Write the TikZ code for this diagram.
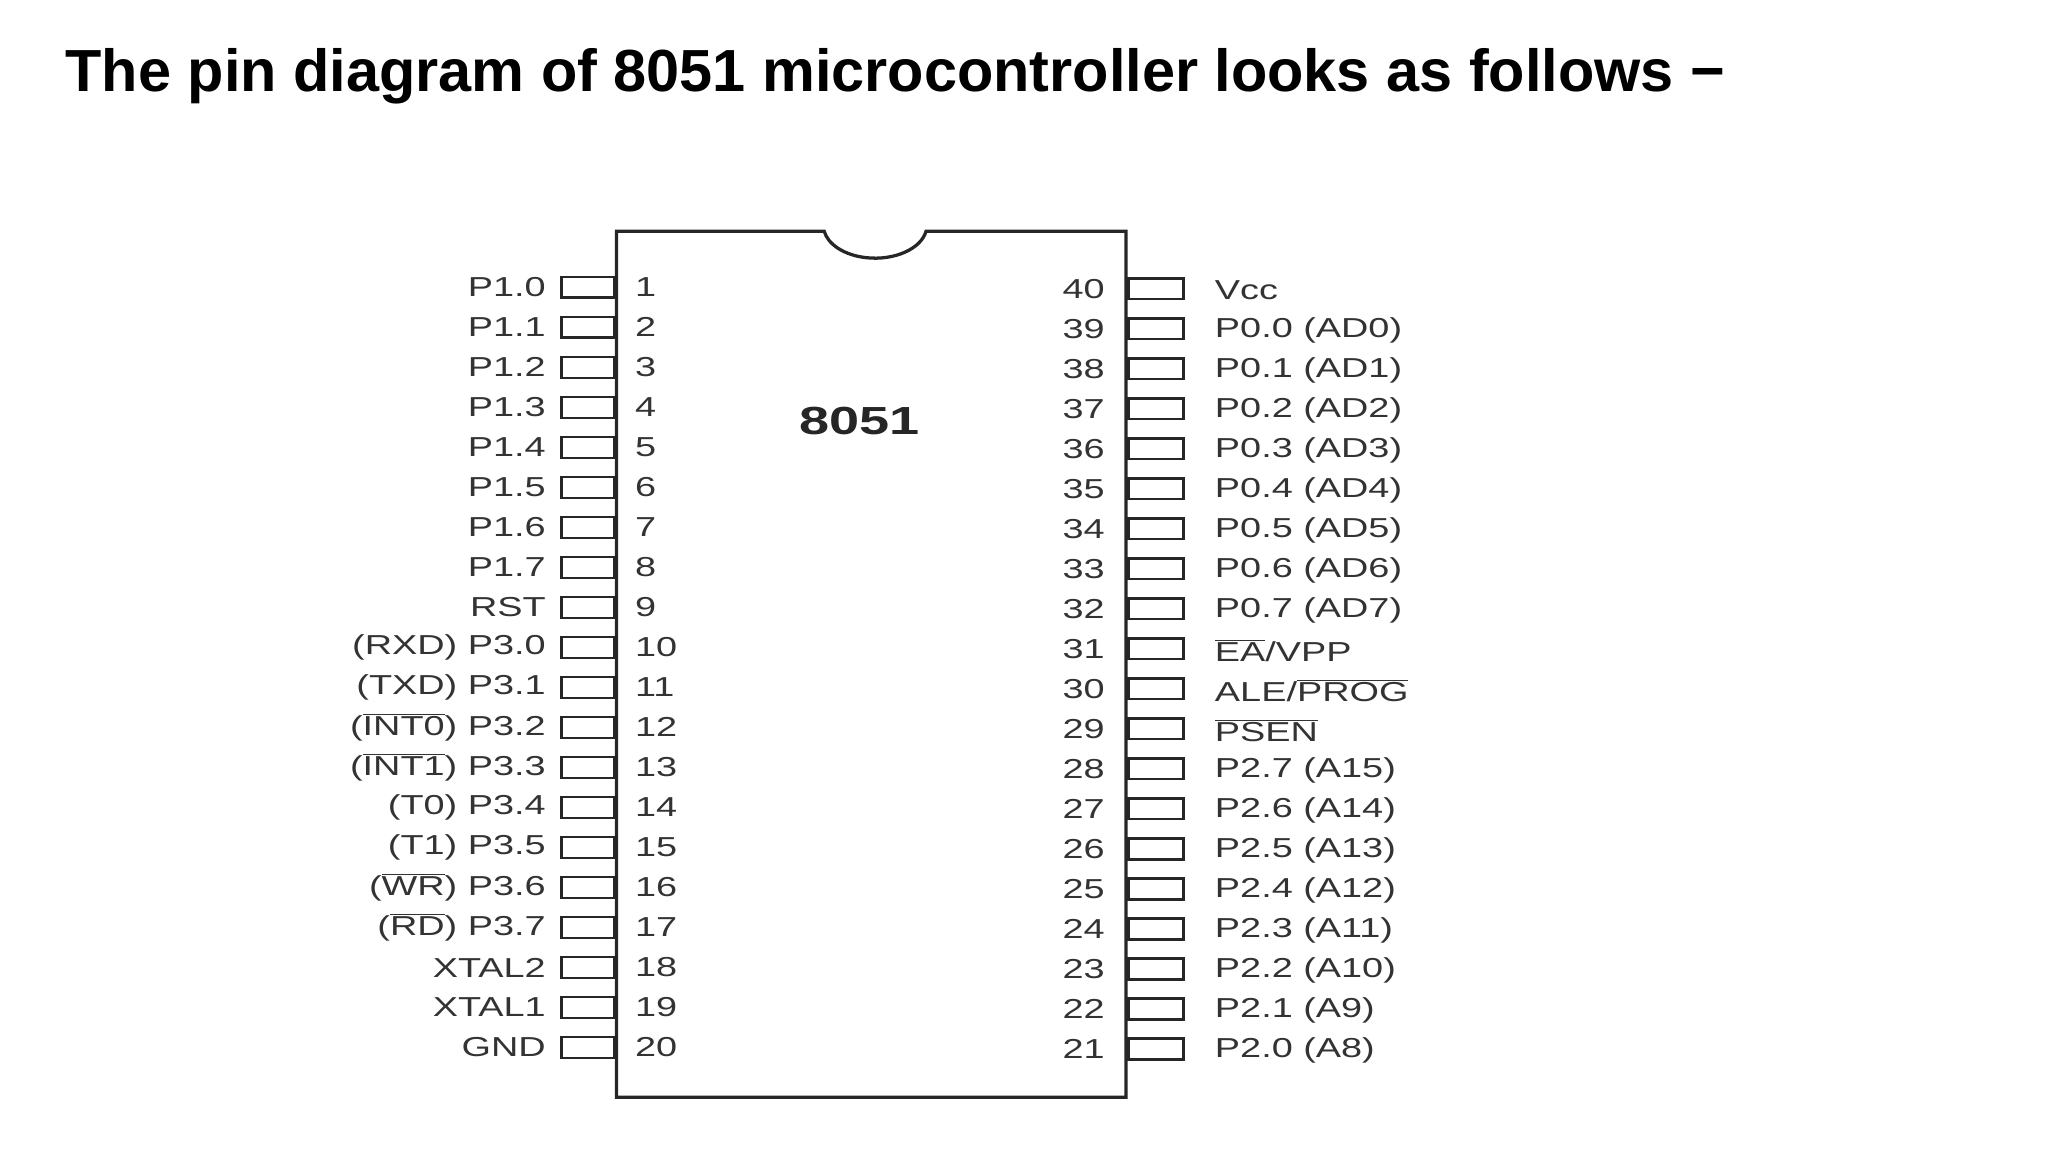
\documentclass[tikz,border=0pt]{standalone}
\usepackage{fontspec}
\setmainfont{Liberation Sans}
\newfontfamily\widefont[FakeStretch=1.38]{Liberation Sans}
\newcommand{\ovl}[1]{$\overline{\mbox{#1}}$}
\begin{document}
\begin{tikzpicture}[x=1pt,y=-1pt,
  pinbox/.style={draw=black!85,line width=2pt},
  lbl/.style={font=\widefont\fontsize{21}{21}\selectfont,text=black!80,inner sep=0pt},
  chip/.style={draw=black!85,line width=2.5pt}]
\useasboundingbox (0,0) rectangle (1568,882);
\node[anchor=base west,font=\fontsize{45.5}{45.5}\selectfont\bfseries,inner sep=0pt] (title) at (50,70) {The pin diagram of 8051 microcontroller looks as follows −};
\draw[chip] (631,177) -- (472,177) -- (472,840) -- (862,840) -- (862,177) -- (709,177)
  arc[start angle=10,end angle=170,x radius=39.6,y radius=25] -- cycle;
\node[font=\widefont\fontsize{30}{30}\selectfont\bfseries,text=black!85] (chipname) at (658,322) {8051};
\foreach \t [count=\i] in {P1.0,P1.1,P1.2,P1.3,P1.4,P1.5,P1.6,P1.7,RST,(RXD) P3.0,(TXD) P3.1,(\ovl{INT0}) P3.2,(\ovl{INT1}) P3.3,(T0) P3.4,(T1) P3.5,(\ovl{WR}) P3.6,(\ovl{RD}) P3.7,XTAL2,XTAL1,GND}{
  \pgfmathsetmacro{\yy}{220+(\i-1)*30.63}
  \draw[pinbox] (430,\yy-8) rectangle (470,\yy+8);
  \node[lbl,anchor=east] (l\i) at (418,\yy) {\t};
  \node[lbl,anchor=west] (n\i) at (486,\yy) {\i};
}
\foreach \t [count=\i] in {Vcc,P0.0 (AD0),P0.1 (AD1),P0.2 (AD2),P0.3 (AD3),P0.4 (AD4),P0.5 (AD5),P0.6 (AD6),P0.7 (AD7),\ovl{EA}/VPP,ALE/\ovl{PROG},\ovl{PSEN},P2.7 (A15),P2.6 (A14),P2.5 (A13),P2.4 (A12),P2.3 (A11),P2.2 (A10),P2.1 (A9),P2.0 (A8)}{
  \pgfmathsetmacro{\yy}{221+(\i-1)*30.63}
  \pgfmathtruncatemacro{\num}{41-\i}
  \draw[pinbox] (864,\yy-8) rectangle (906,\yy+8);
  \node[lbl,anchor=west] (r\i) at (930,\yy+1.5) {\t};
  \node[lbl,anchor=east] (m\i) at (846,\yy) {\num};
}
\end{tikzpicture}
\end{document}
